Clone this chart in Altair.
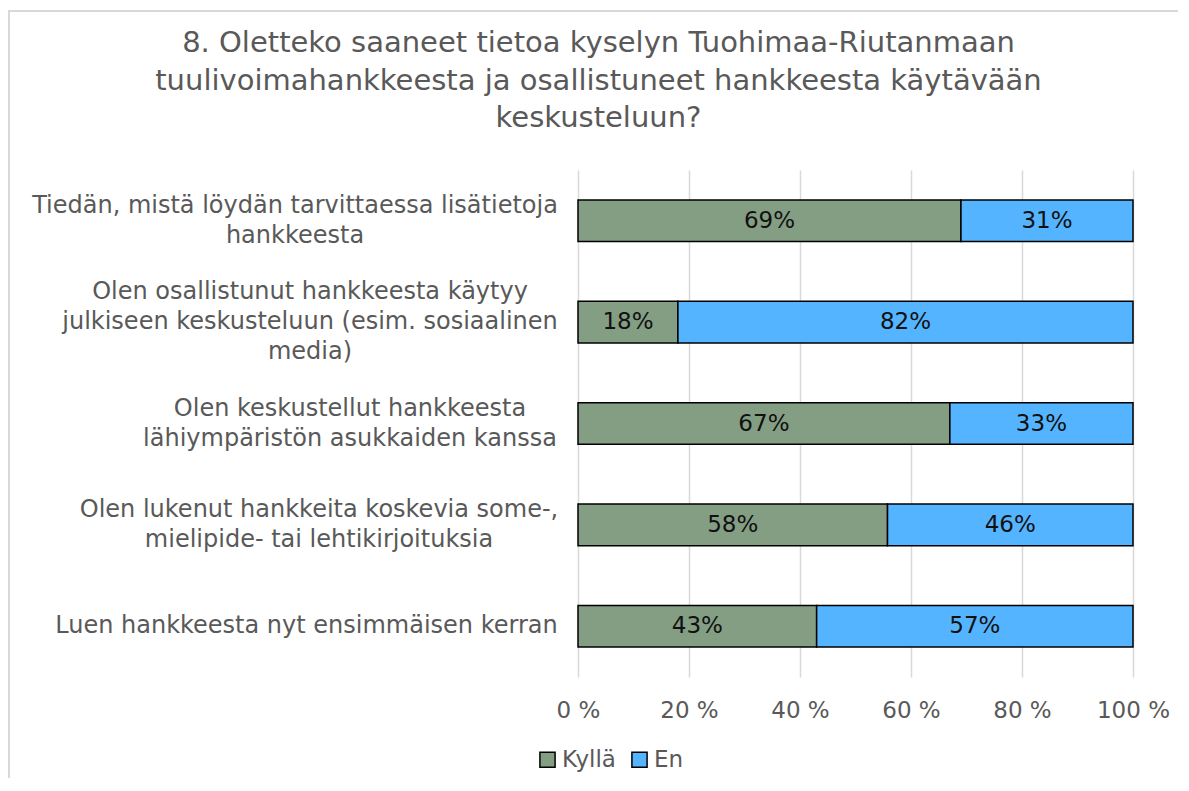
import altair as alt
import pandas as pd
import json

categories = [
    "Tiedän, mistä löydän tarvittaessa lisätietoja|hankkeesta",
    "Olen osallistunut hankkeesta käytyy|julkiseen keskusteluun (esim. sosiaalinen|media)",
    "Olen keskustellut hankkeesta|lähiympäristön asukkaiden kanssa",
    "Olen lukenut hankkeita koskevia some-,|mielipide- tai lehtikirjoituksia",
    "Luen hankkeesta nyt ensimmäisen kerran",
]
kylla = [69, 18, 67, 58, 43]
en = [31, 82, 33, 46, 57]
series = ["Kyllä", "En"]
colors = ["#849E84", "#55B4FF"]
x_ticks = [0, 0.2, 0.4, 0.6, 0.8, 1.0]

# layout style: rendered width (px) of each multi-line label block, so the
# centred text blocks end flush against the plot like the original
label_block_width = [523, 493, 413, 475, 500]

rows = []
for i, c in enumerate(categories):
    rows.append({"cat": c, "series": "Kyllä", "order": 0, "value": kylla[i]})
    rows.append({"cat": c, "series": "En", "order": 1, "value": en[i]})
df = pd.DataFrame(rows)

FONT = "DejaVu Sans"
GREY = "#595959"
LINE_H = 30
GAP = 22

pad_expr = "{g} + {w}[indexof({c}, datum.value)] / 2".format(
    g=GAP, w=json.dumps(label_block_width), c=json.dumps(categories, ensure_ascii=False)
)
off_expr = "-(length(split(datum.value, '|')) - 1) * {h} / 2".format(h=LINE_H)

base = alt.Chart(df).transform_stack(
    stack="value", groupby=["cat"], as_=["x0", "x1"],
    offset="normalize", sort=[alt.SortField("order")]
).transform_calculate(
    mid="(datum.x0 + datum.x1) / 2",
    lab="datum.value + '%'"
)

y_enc = alt.Y(
    "cat:N", sort=categories, title=None,
    scale=alt.Scale(paddingInner=0.59, paddingOuter=0.295),
    axis=alt.Axis(
        labelExpr="split(datum.label, '|')",
        labelFont=FONT, labelFontSize=24, labelColor=GREY,
        labelAlign="center", labelBaseline="middle", labelLineHeight=LINE_H,
        labelPadding=alt.ExprRef(expr=pad_expr),
        labelOffset=alt.ExprRef(expr=off_expr),
        ticks=False, domain=False, grid=False,
        labelLimit=800,
    ),
)

bars = base.mark_bar(stroke="black", strokeWidth=1.5).encode(
    y=y_enc,
    x=alt.X(
        "x0:Q", title=None,
        scale=alt.Scale(domain=[0, 1], nice=False),
        axis=alt.Axis(
            values=x_ticks, labelExpr="round(datum.value*100) + ' %'",
            labelFont=FONT, labelFontSize=23, labelColor=GREY, labelPadding=22,
            ticks=False, domain=False, grid=True, gridColor="#d9d9d9",
            gridWidth=1.5, labelFlush=False,
        ),
    ),
    x2="x1:Q",
    fill=alt.Fill(
        "series:N", sort=series,
        scale=alt.Scale(domain=series, range=colors),
        legend=alt.Legend(
            title=None, orient="none", direction="horizontal",
            legendX=-42, legendY=578,
            labelFont=FONT, labelFontSize=23, labelColor=GREY,
            symbolType="square", symbolSize=230, symbolStrokeColor="black",
            symbolStrokeWidth=1.5, columnPadding=12, labelOffset=3,
        ),
    ),
)

text = base.mark_text(font=FONT, fontSize=23, color="#111111").encode(
    y=alt.Y("cat:N", sort=categories),
    x=alt.X("mid:Q"),
    text="lab:N",
)

# light chart-area frame (top and left edges visible in the original)
frame_df = pd.DataFrame({"k": [0]})
frame_top = alt.Chart(frame_df).mark_rule(color="#d9d9d9", strokeWidth=2).encode(
    x=alt.value(-569), x2=alt.value(700), y=alt.value(-159)
)
frame_left = alt.Chart(frame_df).mark_rule(color="#d9d9d9", strokeWidth=2).encode(
    x=alt.value(-569), y=alt.value(-160), y2=alt.value(700)
)

chart = alt.layer(frame_top, frame_left, bars, text).properties(
    width=555,
    height=507,
    background="white",
    autosize=alt.AutoSizeParams(type="none"),
    title=alt.TitleParams(
        text=[
            "8. Oletteko saaneet tietoa kyselyn Tuohimaa-Riutanmaan",
            "tuulivoimahankkeesta ja osallistuneet hankkeesta käytävään",
            "keskusteluun?",
        ],
        font=FONT, fontSize=29, fontWeight="normal", color=GREY,
        lineHeight=37.5, anchor="middle", frame="group", dx=-257, offset=-124,
    ),
    padding={"left": 570, "top": 162, "right": 45, "bottom": 101},
).configure_view(stroke=None)

chart.save("out.html", embed_options={"renderer": "svg", "actions": False})
